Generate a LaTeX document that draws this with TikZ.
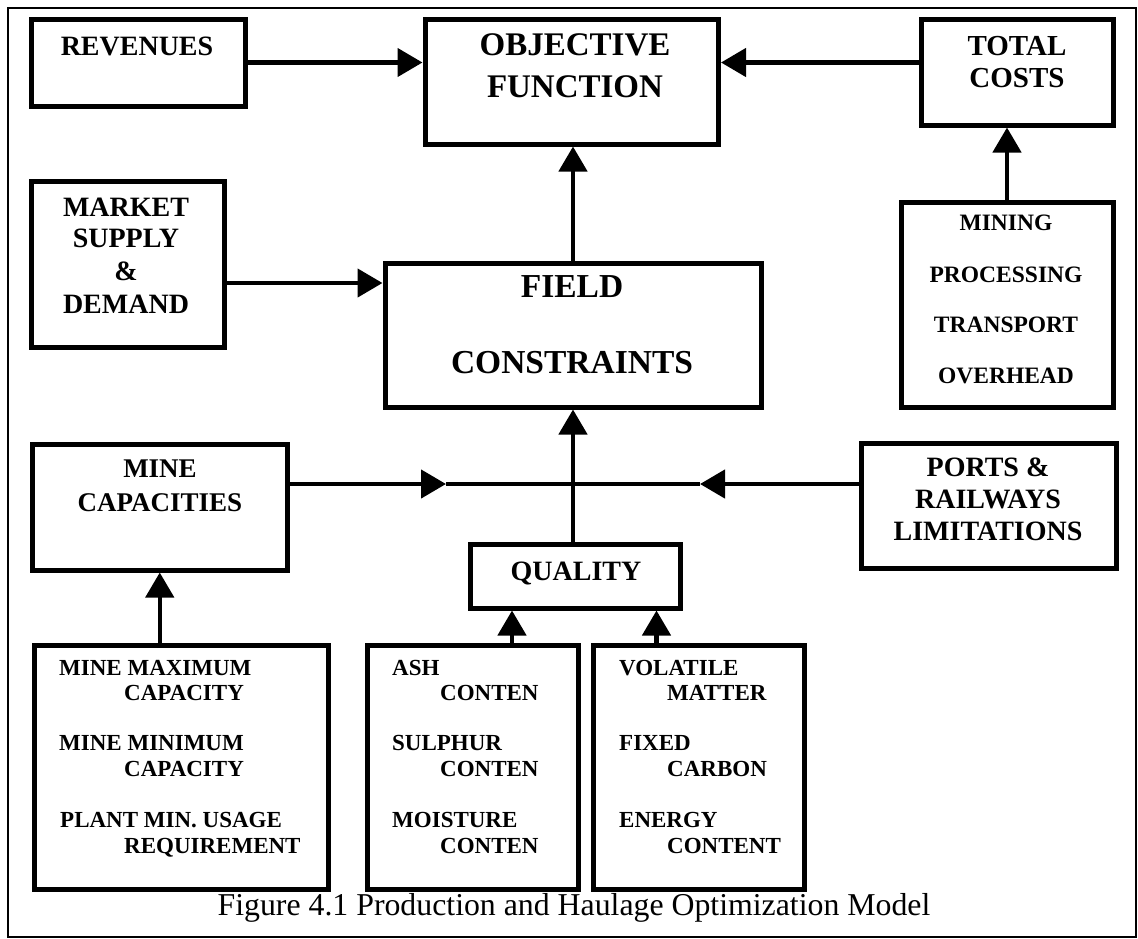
\documentclass[tikz,border=0pt]{standalone}
\usepackage{fontspec}
\setmainfont{Liberation Serif}
\usetikzlibrary{arrows.meta}
\tikzset{
  box/.style={draw, line width=5pt, inner sep=0pt},
  conn/.style={line width=4.5pt},
  arr/.style={-{Triangle[length=25pt,width=28pt]}},
  lbl/.style={anchor=base, inner sep=0pt, font=\bfseries\fontsize{#1}{#1}\selectfont},
  lbll/.style={anchor=base west, inner sep=0pt, font=\bfseries\fontsize{#1}{#1}\selectfont},
}
\begin{document}
\begin{tikzpicture}[x=1pt,y=-1pt]
\useasboundingbox (0,0) rectangle (1138,938);
% outer frame
\draw[line width=2pt] (7.5,7.5) rectangle (1136,936.5);

% boxes
\node[box, minimum width=214pt, minimum height=87pt]  (rev)   at (138,62.5) {};
\node[box, minimum width=293.5pt, minimum height=125pt] (obj) at (571.75,81.5) {};
\node[box, minimum width=192pt, minimum height=106pt] (tc)    at (1017,72) {};
\node[box, minimum width=193pt, minimum height=166pt] (mkt)   at (127.5,264) {};
\node[box, minimum width=376pt, minimum height=144pt] (fld)   at (573,335) {};
\node[box, minimum width=212pt, minimum height=205pt] (cost)  at (1007,304.5) {};
\node[box, minimum width=254.5pt, minimum height=126pt] (mcap) at (159.75,507) {};
\node[box, minimum width=254.5pt, minimum height=125pt] (ports) at (988.75,505.5) {};
\node[box, minimum width=210pt, minimum height=64pt]  (qual)  at (575,576) {};
\node[box, minimum width=294pt, minimum height=244pt] (mmax)  at (181,767) {};
\node[box, minimum width=211pt, minimum height=244pt] (ash)   at (472.5,767) {};
\node[box, minimum width=211pt, minimum height=244pt] (vol)   at (698.5,767) {};

% box texts
\node[lbl=28] (t-rev) at (137,55) {REVENUES};
\node[lbl=33] (t-obj1) at (575,55) {OBJECTIVE};
\node[lbl=33] (t-obj2) at (575,97) {FUNCTION};
\node[lbl=29] (t-tc1) at (1017,55) {TOTAL};
\node[lbl=29] (t-tc2) at (1017,87) {COSTS};
\node[lbl=28] (t-mkt1) at (126,216) {MARKET};
\node[lbl=28] (t-mkt2) at (126,247) {SUPPLY};
\node[lbl=28] (t-mkt3) at (126,280) {\&};
\node[lbl=28] (t-mkt4) at (126,313) {DEMAND};
\node[lbl=33.5] (t-fld1) at (572,297) {FIELD};
\node[lbl=33.5] (t-fld2) at (572,373) {CONSTRAINTS};
\node[lbl=23.5] (t-c1) at (1006,230) {MINING};
\node[lbl=23.5] (t-c2) at (1006,282) {PROCESSING};
\node[lbl=23.5] (t-c3) at (1006,332) {TRANSPORT};
\node[lbl=23.5] (t-c4) at (1006,383) {OVERHEAD};
\node[lbl=27] (t-mc1) at (160,477) {MINE};
\node[lbl=27] (t-mc2) at (160,511) {CAPACITIES};
\node[lbl=28] (t-p1) at (988,476) {PORTS \&};
\node[lbl=28] (t-p2) at (988,508) {RAILWAYS};
\node[lbl=28] (t-p3) at (988,540) {LIMITATIONS};
\node[lbl=28] (t-q) at (576,580) {QUALITY};

\node[lbll=23] (t-m1) at (59,675) {MINE MAXIMUM};
\node[lbll=23] (t-m2) at (124,700) {CAPACITY};
\node[lbll=23] (t-m3) at (59,750) {MINE MINIMUM};
\node[lbll=23] (t-m4) at (124,776) {CAPACITY};
\node[lbll=23] (t-m5) at (60,827) {PLANT MIN. USAGE};
\node[lbll=23] (t-m6) at (124,853) {REQUIREMENT};

\node[lbll=23] (t-a1) at (392,675) {ASH};
\node[lbll=23] (t-a2) at (440,700) {CONTEN};
\node[lbll=23] (t-a3) at (392,750) {SULPHUR};
\node[lbll=23] (t-a4) at (440,776) {CONTEN};
\node[lbll=23] (t-a5) at (392,827) {MOISTURE};
\node[lbll=23] (t-a6) at (440,853) {CONTEN};

\node[lbll=23] (t-v1) at (619,675) {VOLATILE};
\node[lbll=23] (t-v2) at (667,700) {MATTER};
\node[lbll=23] (t-v3) at (619,750) {FIXED};
\node[lbll=23] (t-v4) at (667,776) {CARBON};
\node[lbll=23] (t-v5) at (619,827) {ENERGY};
\node[lbll=23] (t-v6) at (667,853) {CONTENT};

% caption
\node[anchor=base, inner sep=0pt, font=\fontsize{31.8}{31.8}\selectfont] (cap) at (574,915)
  {Figure 4.1 Production and Haulage Optimization Model};

% connectors
\coordinate (jn) at (573,484);
\coordinate (ml) at (446,484);
\coordinate (mr) at (700,484);
\coordinate (ym) at (0,283);

\draw[conn, arr] (rev.east) -- (rev.east -| obj.west);
\draw[conn, arr] (tc.west |- rev.east) -- (rev.east -| obj.east);
\draw[conn, arr] (mkt.east |- ym) -- (fld.west |- ym);
\draw[conn, arr] (fld.north) -- (fld.north |- obj.south);
\draw[conn, arr] (cost.north) -- (cost.north |- tc.south);

\draw[conn, arr] (mcap.east |- jn) -- (ml);
\draw[conn] (ml) -- (jn);
\draw[conn, arr] (ports.west |- jn) -- (mr);
\draw[conn] (mr) -- (jn);
\draw[conn, arr] (fld.south |- qual.north) -- (fld.south);

\draw[conn, arr] (mcap.south |- mmax.north) -- (mcap.south);
\draw[conn, arr] ([xshift=39.5pt]ash.north) -- ([xshift=39.5pt]ash.north |- qual.south);
\draw[conn, arr] ([xshift=-42pt]vol.north) -- ([xshift=-42pt]vol.north |- qual.south);
\end{tikzpicture}
\end{document}
